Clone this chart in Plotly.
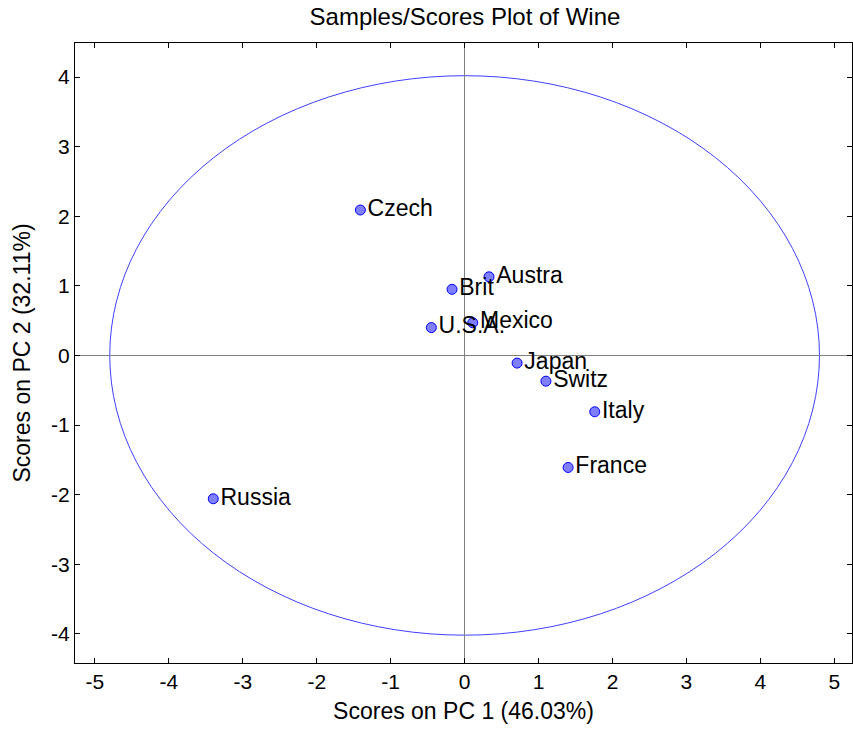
import plotly.graph_objects as go

countries = ["Czech", "Austra", "Brit", "U.S.A.", "Mexico", "Japan", "Switz", "Italy", "France", "Russia"]
pc1_scores = [-1.41, 0.33, -0.17, -0.45, 0.11, 0.71, 1.10, 1.76, 1.40, -3.40]
pc2_scores = [2.09, 1.13, 0.95, 0.40, 0.47, -0.11, -0.37, -0.81, -1.61, -2.06]
ellipse_semi_axes = [4.80, 4.02]
x_ticks = [-5, -4, -3, -2, -1, 0, 1, 2, 3, 4, 5]
y_ticks = [-4, -3, -2, -1, 0, 1, 2, 3, 4]

FONT = "Liberation Sans, Arial, Helvetica, sans-serif"

fig = go.Figure()
fig.add_trace(go.Scatter(
    x=pc1_scores, y=pc2_scores, mode="markers+text",
    text=countries, textposition="middle right",
    textfont=dict(family=FONT, size=23, color="black"),
    marker=dict(size=10, color="#7f7fff", line=dict(color="#0000ff", width=1)),
    showlegend=False, cliponaxis=False,
))

fig.add_shape(type="circle", xref="x", yref="y",
              x0=-ellipse_semi_axes[0], x1=ellipse_semi_axes[0],
              y0=-ellipse_semi_axes[1], y1=ellipse_semi_axes[1],
              line=dict(color="#4040ff", width=1), layer="below")

axis_common = dict(
    showgrid=False, showline=True, linecolor="black", linewidth=1,
    mirror="ticks", ticks="inside", ticklen=5, tickcolor="black", tickwidth=1,
    zeroline=True, zerolinecolor="#808080", zerolinewidth=1,
    tickfont=dict(family=FONT, size=21, color="black"),
    automargin=False,
)

W, H = 853, 729
fig.update_layout(
    width=W, height=H,
    margin=dict(l=75, r=1, t=43, b=66),
    paper_bgcolor="white", plot_bgcolor="white",
    title=dict(text="Samples/Scores Plot of Wine", x=465 / W, xanchor="center",
               y=1 - 17 / H, yanchor="middle", automargin=False,
               font=dict(family=FONT, size=24, color="black")),
    xaxis=dict(range=[-5.27, 5.24], tickvals=x_ticks, ticktext=[str(v) for v in x_ticks],
               title=dict(text="Scores on PC 1 (46.03%)", standoff=10,
                          font=dict(family=FONT, size=23, color="black")),
               **axis_common),
    yaxis=dict(range=[-4.42, 4.49], tickvals=y_ticks, ticktext=[str(v) for v in y_ticks],
               title=dict(text="Scores on PC 2 (32.11%)", standoff=14,
                          font=dict(family=FONT, size=23, color="black")),
               **axis_common),
)

# remove the browser's default 8px body margin so the figure fills the window exactly
fig.write_html("out.html",
               config={"displayModeBar": False},
               post_script="document.body.style.margin='0px';document.body.style.overflow='hidden';")
